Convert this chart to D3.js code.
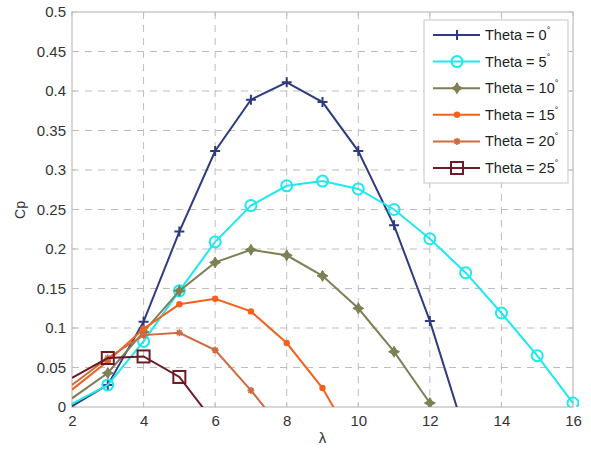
<!DOCTYPE html>
<html><head><meta charset="utf-8">
<script src="https://cdn.jsdelivr.net/npm/d3@7"></script>
<style>body{margin:0;background:#fff;} svg{display:block;font-family:"Liberation Sans",Arial,sans-serif;}</style>
</head><body><svg id="c" width="591" height="452"></svg>
<script>
const lambda = [2,3,4,5,6,7,8,9,10,11,12,13,14,15,16];
const theta0  = [0.001,0.028,0.108,0.222,0.324,0.389,0.411,0.386,0.324,0.230,0.109,-0.036];
const theta5  = [0.004,0.028,0.083,0.147,0.209,0.255,0.280,0.286,0.276,0.250,0.213,0.170,0.119,0.065,0.005];
const theta10 = [0.011,0.043,0.095,0.147,0.183,0.199,0.192,0.166,0.125,0.070,0.005];
const theta15 = [0.022,0.058,0.099,0.130,0.137,0.121,0.081,0.024,-0.055];
const theta20 = [0.028,0.062,0.091,0.094,0.072,0.021,-0.035];
const theta25 = [0.037,0.062,0.064,0.038,-0.021];
const seriesNames = ["Theta = 0","Theta = 5","Theta = 10","Theta = 15","Theta = 20","Theta = 25"];
const seriesValues = [theta0,theta5,theta10,theta15,theta20,theta25];
const colors = ["#2e3b7e","#1ee8f0","#7f7f55","#f2621e","#cf6a3e","#6e1a24"];
const markers = ["plus","circle","diamond","dot","star","square"];
const xTicks = [2,4,6,8,10,12,14,16];
const yTicks = [0,0.05,0.1,0.15,0.2,0.25,0.3,0.35,0.4,0.45,0.5];

const svg = d3.select("#c");
const L=72,R=573,T=12,B=407;
const x = d3.scaleLinear().domain([2,16]).range([L,R]);
const y = d3.scaleLinear().domain([0,0.5]).range([B,T]);

svg.append("rect").attr("x",L).attr("y",T).attr("width",R-L).attr("height",B-T).attr("fill","#fff");
// grid
const g = svg.append("g");
g.selectAll(".vg").data(xTicks.slice(1,-1)).enter().append("line")
 .attr("x1",d=>x(d)).attr("x2",d=>x(d)).attr("y1",T).attr("y2",B)
 .attr("stroke","#bdbdbd").attr("stroke-width",1).attr("stroke-dasharray","7,6");
g.selectAll(".hg").data(yTicks.slice(1,-1)).enter().append("line")
 .attr("y1",d=>y(d)).attr("y2",d=>y(d)).attr("x1",L).attr("x2",R)
 .attr("stroke","#bdbdbd").attr("stroke-width",1).attr("stroke-dasharray","7,6");

// axes
const ax = svg.append("g").attr("transform",`translate(0,${B})`)
 .call(d3.axisBottom(x).tickValues(xTicks).tickSize(0).tickPadding(8).tickFormat(d3.format("d")));
const ay = svg.append("g").attr("transform",`translate(${L},0)`)
 .call(d3.axisLeft(y).tickValues(yTicks).tickSize(0).tickPadding(6).tickFormat(d=>d===0?"0":String(+d.toFixed(2))));
[ax,ay].forEach(a=>{a.select(".domain").remove();a.selectAll("text").attr("font-size",15).attr("fill","#333").attr("font-family","Liberation Sans, Arial, sans-serif");});
// inward ticks on all sides
const tk = svg.append("g").attr("stroke","#bdbdbd");
xTicks.forEach(v=>{tk.append("line").attr("x1",x(v)).attr("x2",x(v)).attr("y1",B).attr("y2",B-4);tk.append("line").attr("x1",x(v)).attr("x2",x(v)).attr("y1",T).attr("y2",T+4);});
yTicks.forEach(v=>{tk.append("line").attr("y1",y(v)).attr("y2",y(v)).attr("x1",L).attr("x2",L+4);tk.append("line").attr("y1",y(v)).attr("y2",y(v)).attr("x1",R).attr("x2",R-4);});
svg.append("rect").attr("x",L).attr("y",T).attr("width",R-L).attr("height",B-T).attr("fill","none").attr("stroke","#bdbdbd").attr("stroke-width",1.2);

// clip
svg.append("clipPath").attr("id","clip").append("rect").attr("x",L).attr("y",T-6).attr("width",R-L+6).attr("height",B-T+6);
const plot = svg.append("g").attr("clip-path","url(#clip)");

function drawMarker(sel,type,color,cx,cy){
  const s = sel.append("g").attr("transform",`translate(${cx},${cy})`);
  if(type==="plus"){
    s.append("path").attr("d","M-5,0H5M0,-5V5").attr("stroke",color).attr("stroke-width",2);
  } else if(type==="circle"){
    s.append("circle").attr("r",5.5).attr("fill","none").attr("stroke",color).attr("stroke-width",2);
  } else if(type==="diamond"){
    s.append("path").attr("d","M0,-5.5L2,-2L5.5,0L2,2L0,5.5L-2,2L-5.5,0L-2,-2Z").attr("fill",color).attr("stroke",color).attr("stroke-width",1);
  } else if(type==="dot"){
    s.append("circle").attr("r",3.2).attr("fill",color);
  } else if(type==="star"){
    s.append("path").attr("d","M-3.5,0H3.5M0,-3.5V3.5M-2.5,-2.5L2.5,2.5M-2.5,2.5L2.5,-2.5").attr("stroke",color).attr("stroke-width",1.6);
  } else if(type==="square"){
    s.append("rect").attr("x",-6).attr("y",-6).attr("width",12).attr("height",12).attr("fill","none").attr("stroke",color).attr("stroke-width",2);
  }
}

const line = d3.line().x(d=>x(d[0])).y(d=>y(d[1]));
seriesValues.forEach((vals,i)=>{
  const pts = vals.map((v,j)=>[lambda[j],v]);
  plot.append("path").datum(pts).attr("d",line).attr("fill","none").attr("stroke",colors[i]).attr("stroke-width",2);
  // markers on interior points only (edge points sit on the axes and are hidden in the original)
  pts.forEach(p=>{ if(p[1]>=0 && p[0]>2) drawMarker(plot,markers[i],colors[i],x(p[0]),y(p[1])); });
});

// labels
svg.append("text").attr("x",(L+R)/2).attr("y",443).attr("text-anchor","middle").attr("font-size",15).attr("fill","#333").text("λ");
svg.append("text").attr("transform","translate(25,210) rotate(-90)").attr("text-anchor","middle").attr("font-size",14).attr("fill","#333").text("Cp");

// legend
const lg = svg.append("g");
lg.append("rect").attr("x",424).attr("y",20).attr("width",144).attr("height",163).attr("fill","#fff").attr("stroke","#cfcfcf").attr("stroke-width",1.2);
seriesNames.forEach((n,i)=>{
  const cy = 35 + i*26.6;
  lg.append("line").attr("x1",433).attr("x2",480).attr("y1",cy).attr("y2",cy).attr("stroke",colors[i]).attr("stroke-width",2);
  drawMarker(lg,markers[i],colors[i],457,cy);
  const t = lg.append("text").attr("x",485).attr("y",cy+5).attr("font-size",14.5).attr("fill","#222").text(n);
  t.append("tspan").attr("dy",-7).attr("font-size",9).text("°");
});
</script></body></html>
